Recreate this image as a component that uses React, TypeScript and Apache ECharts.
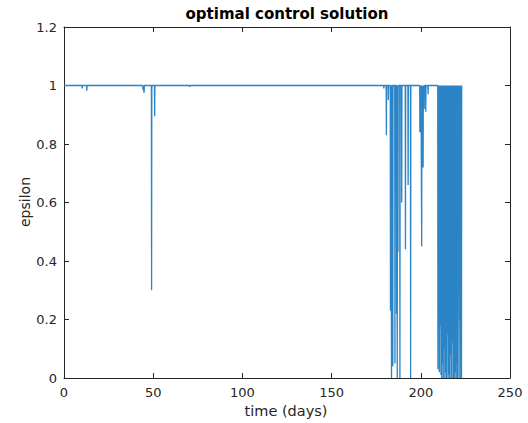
import React, { useEffect, useRef } from "react";
import * as echarts from "echarts";

const titleText = "optimal control solution";
const xName = "time (days)";
const yName = "epsilon";
const xTicks = [0, 50, 100, 150, 200, 250];
const yTicks = [0, 0.2, 0.4, 0.6, 0.8, 1, 1.2];

// dips of the control away from 1 (time in days, value reached)
const spikeTimes = [
  10.2, 12.8, 44.3, 44.9, 49.1, 50.8, 70.4,
  179.3, 180.7, 181.8, 183.0, 183.6, 184.3, 185.5, 186.4, 186.8, 187.2, 188.3,
  189.3, 191.4, 192.9, 194.3,
  199.5, 200.0, 200.5, 201.0, 201.3, 201.9, 202.8, 204.1,
  209.6, 210.0, 210.4, 210.9, 211.3, 211.7, 212.1, 212.6, 213.0, 213.5,
  213.9, 214.4, 214.8, 215.3, 215.7, 216.2, 216.6, 217.1, 217.5, 218.0,
  218.4, 218.9, 219.3, 219.8, 220.2, 220.6, 221.0, 221.5, 221.9, 222.4, 222.8,
];
const spikeValues = [
  0.99, 0.982, 0.985, 0.975, 0.3, 0.895, 0.995,
  0.99, 0.83, 0.95, 0.23, 0.0, 0.04, 0.05, 0.22, 0.0, 0.43, 0.0,
  0.6, 0.44, 0.66, 0.0,
  0.84, 0.93, 0.45, 0.88, 0.72, 0.92, 0.91, 0.97,
  0.03, 0.2, 0.02, 0.18, 0.01, 0.0, 0.05, 0.0, 0.1, 0.0,
  0.02, 0.0, 0.15, 0.0, 0.01, 0.0, 0.08, 0.0, 0.0, 0.12,
  0.0, 0.0, 0.02, 0.0, 0.05, 0.0, 0.3, 0.0, 0.2, 0.0, 0.0,
];
const startTime = 0;
const endTime = 223.1;
const baseValue = 1;

export default function App() {
  const ref = useRef<HTMLDivElement>(null);
  useEffect(() => {
    document.body.style.margin = "0";
    if (!ref.current) return;
    const chart = echarts.init(ref.current, undefined, { renderer: "svg" });
    const pts: number[][] = [[startTime, baseValue]];
    const d = 0.12;
    spikeTimes.forEach((t, i) => {
      pts.push([t - d, baseValue]);
      pts.push([t, spikeValues[i]]);
      pts.push([t + d, baseValue]);
    });
    pts.push([endTime, baseValue]);

    const axisColor = "#262626";
    const font = "DejaVu Sans";
    const grid = { left: 64, right: 18, top: 27, bottom: 45 };
    const mkX = (pos: string, labels: boolean) => ({
      type: "value",
      min: xTicks[0],
      max: xTicks[xTicks.length - 1],
      interval: 50,
      position: pos,
      axisLine: { show: true, onZero: false, lineStyle: { color: axisColor, width: 1 } },
      axisTick: { show: true, inside: true, length: 5, lineStyle: { color: axisColor } },
      axisLabel: labels
        ? { color: axisColor, fontSize: 13, fontFamily: font, margin: 8 }
        : { show: false },
      splitLine: { show: false },
    });
    const mkY = (pos: string, labels: boolean) => ({
      type: "value",
      min: yTicks[0],
      max: yTicks[yTicks.length - 1],
      interval: 0.2,
      position: pos,
      axisLine: { show: true, onZero: false, lineStyle: { color: axisColor, width: 1 } },
      axisTick: { show: true, inside: true, length: 5, lineStyle: { color: axisColor } },
      axisLabel: labels
        ? { color: axisColor, fontSize: 13, fontFamily: font, margin: 7 }
        : { show: false },
      splitLine: { show: false },
    });
    chart.setOption({
      animation: false,
      backgroundColor: "#ffffff",
      grid,
      xAxis: [mkX("bottom", true), mkX("top", false)],
      yAxis: [mkY("left", true), mkY("right", false)],
      graphic: [
        {
          type: "text",
          x: 287,
          y: 14,
          style: {
            text: titleText,
            fill: "#000000",
            font: "bold 15px DejaVu Sans",
            textAlign: "center",
            textVerticalAlign: "middle",
          },
        },
        {
          type: "text",
          x: 286,
          y: 411,
          style: {
            text: xName,
            fill: axisColor,
            font: "14.5px DejaVu Sans",
            textAlign: "center",
            textVerticalAlign: "middle",
          },
        },
        {
          type: "text",
          x: 25,
          y: 202,
          rotation: Math.PI / 2,
          style: {
            text: yName,
            fill: axisColor,
            font: "14px DejaVu Sans",
            textAlign: "center",
            textVerticalAlign: "middle",
          },
        },
      ],
      series: [
        {
          type: "line",
          data: pts,
          xAxisIndex: 0,
          yAxisIndex: 0,
          showSymbol: false,
          symbol: "none",
          lineStyle: { color: "#2a84c6", width: 1.3 },
          clip: true,
        },
      ],
    });
    return () => chart.dispose();
  }, []);
  return <div ref={ref} style={{ width: 528, height: 423 }} />;
}
